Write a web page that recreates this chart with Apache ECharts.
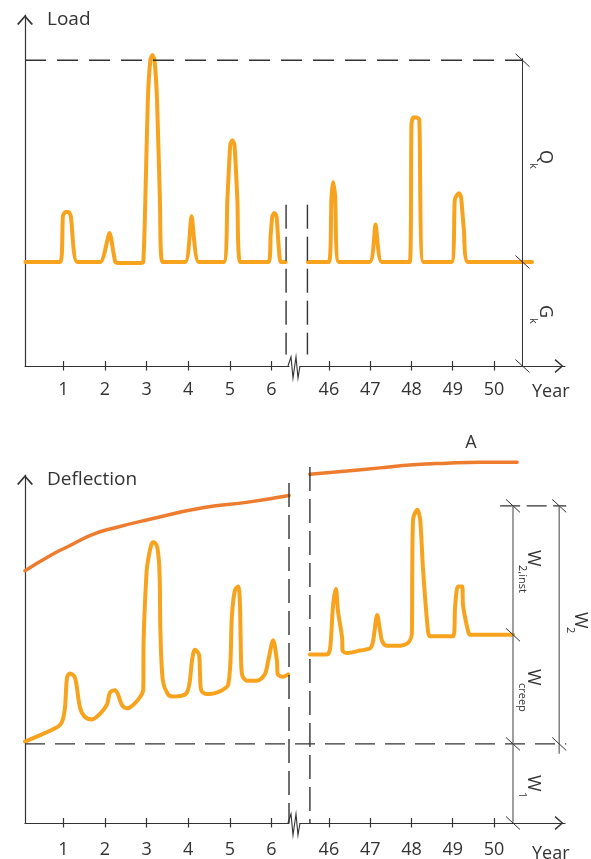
<!DOCTYPE html>
<html><head><meta charset="utf-8">
<script src="https://cdn.jsdelivr.net/npm/echarts@6/dist/echarts.min.js"></script>
<style>html,body{margin:0;padding:0;background:#fff}#c{width:591px;height:859px}</style>
</head><body><div id="c"></div>
<script>
// ---- tick labels ----
const earlyYears = [1, 2, 3, 4, 5, 6];
const lateYears = [46, 47, 48, 49, 50];

// ---- load (top panel), [year, load in units of G_k] ----
const loadEarly = [[0.09,1.00],[0.93,1.00],[0.99,1.44],[1.05,1.48],[1.13,1.48],[1.18,1.44],[1.33,1.00],[1.89,1.00],[2.11,1.28],[2.25,1.00],[2.37,0.99],[2.85,0.99],[2.92,1.00],[2.97,1.60],[3.03,2.56],[3.09,2.94],[3.14,2.99],[3.19,2.94],[3.25,2.56],[3.32,1.60],[3.38,1.00],[3.93,1.00],[4.08,1.44],[4.25,1.00],[4.85,1.00],[4.94,1.60],[5.01,2.13],[5.06,2.17],[5.11,2.13],[5.18,1.60],[5.25,1.00],[5.93,1.00],[5.98,1.26],[6.02,1.44],[6.07,1.47],[6.12,1.44],[6.17,1.16],[6.22,1.00],[6.34,1.00]];
const loadLate = [[45.49,1.00],[46.00,1.00],[46.06,1.60],[46.10,1.77],[46.15,1.64],[46.24,1.00],[46.99,1.00],[47.13,1.36],[47.28,1.00],[47.96,1.00],[48.00,2.32],[48.04,2.39],[48.12,2.39],[48.19,2.37],[48.29,1.00],[48.97,1.00],[49.05,1.60],[49.10,1.64],[49.15,1.66],[49.20,1.63],[49.27,1.31],[49.37,1.00],[50.92,1.00]];

// ---- deflection (bottom panel), [year, deflection in units of w1] ----
const deflEarly = [[0.08,1.03],[0.85,1.21],[0.97,1.28],[1.04,1.46],[1.09,1.84],[1.16,1.89],[1.28,1.84],[1.40,1.46],[1.52,1.34],[1.69,1.31],[1.88,1.38],[2.05,1.50],[2.12,1.65],[2.24,1.68],[2.31,1.63],[2.41,1.49],[2.53,1.45],[2.67,1.49],[2.84,1.59],[2.92,1.69],[2.93,2.34],[3.00,3.18],[3.04,3.34],[3.12,3.53],[3.17,3.55],[3.25,3.50],[3.30,3.28],[3.32,2.96],[3.33,2.46],[3.39,1.80],[3.51,1.63],[3.63,1.60],[3.85,1.61],[3.97,1.65],[4.04,1.80],[4.09,2.05],[4.16,2.19],[4.26,2.13],[4.28,1.93],[4.31,1.68],[4.45,1.63],[4.69,1.65],[4.96,1.75],[5.05,2.63],[5.12,2.94],[5.20,2.99],[5.24,2.80],[5.26,2.30],[5.29,1.88],[5.41,1.80],[5.65,1.80],[5.84,1.88],[5.92,2.05],[6.04,2.31],[6.13,2.05],[6.15,1.88],[6.28,1.85],[6.40,1.88]];
const deflLate = [[45.54,2.13],[45.95,2.13],[46.03,2.21],[46.10,2.75],[46.17,2.96],[46.22,2.68],[46.32,2.34],[46.33,2.18],[46.44,2.15],[46.75,2.18],[47.00,2.21],[47.07,2.30],[47.17,2.63],[47.24,2.43],[47.29,2.30],[47.41,2.24],[47.65,2.24],[47.92,2.28],[48.01,2.40],[48.02,3.21],[48.04,3.84],[48.14,3.96],[48.21,3.84],[48.28,3.21],[48.40,2.43],[48.45,2.36],[49.01,2.36],[49.06,2.75],[49.13,2.99],[49.23,2.99],[49.25,2.75],[49.37,2.43],[49.42,2.38],[50.46,2.38]];

// ---- curve A (upper bound) ----
const curveAEarly = [[0.08,3.19],[0.68,3.38],[1.09,3.49],[1.71,3.65],[2.29,3.74],[3.08,3.84],[4.28,3.98],[5.48,4.06],[6.42,4.14]];
const curveALate = [[45.54,4.41],[46.44,4.45],[47.24,4.49],[48.04,4.53],[48.86,4.55],[49.66,4.56],[50.56,4.56]];

// ---- reference levels ----
const Q_LEVEL = 2.94, G_LEVEL = 1.0;
const W1_LEVEL = 1.0, WCREEP_LEVEL = 2.38, W2_LEVEL = 4.01, W2_BRACKET_END = 0.875;

// ---- axis ranges ----
const XL = [0.08, 6.42], XR = [45.30, 51.72];
const Y_TOP_MAX = 3.375, Y_BOT_MAX = 4.4;

const INK = '#333';
const LOAD = '#F8A31D', ACOL = '#EE7C2F';
const FONT = 'Open Sans';
const chevron = 'path://M0,9 L8,0 L16,9 L14.6,10 L8,2.4 L1.4,10 Z';

function xMain(g, ext, ticks, margin, arrow) {
  return {type:'value', gridIndex:g, min:ext[0], max:ext[1], position:'bottom',
    splitLine:{show:false},
    axisLine:{show:true, onZero:false, lineStyle:{color:INK, width:1.2},
      symbol: arrow ? ['none', chevron] : ['none','none'], symbolSize:[14,12], symbolOffset:[0,-6]},
    axisTick:{show:true, inside:true, length:5, customValues:ticks, lineStyle:{color:INK, width:1.2}},
    axisLabel:{show:true, customValues:ticks, margin:margin, color:INK, fontSize:18, fontFamily:FONT}};
}
function xUnder(g, ext, ticks) {
  return {type:'value', gridIndex:g, min:ext[0], max:ext[1], position:'bottom',
    splitLine:{show:false}, axisLine:{show:false, onZero:false},
    axisTick:{show:true, inside:false, length:4.5, customValues:ticks, lineStyle:{color:INK, width:1.2}},
    axisLabel:{show:false}};
}
function yAx(g, max, visible) {
  return {type:'value', gridIndex:g, min:0, max:max, show:visible,
    splitLine:{show:false}, axisTick:{show:false}, axisLabel:{show:false},
    axisLine:{show:visible, onZero:false, lineStyle:{color:INK, width:1.2},
      symbol:['none', chevron], symbolSize:[16,10], symbolOffset:[0,-5]}};
}
function lineSeries(g, data, color, width, smooth) {
  return {type:'line', xAxisIndex:g, yAxisIndex:g, data:data, symbol:'none', showSymbol:false,
    smooth:smooth, clip:false, z:3,
    lineStyle:{color:color, width:width, cap:'round', join:'round'}};
}

const option = {
  animation:false,
  backgroundColor:'#fff',
  grid:[
    {left:25, top:15, width:264, height:351},
    {left:300, top:15, width:265, height:351},
    {left:25, top:475, width:264, height:352},
    {left:300, top:475, width:265, height:352}
  ],
  xAxis:[
    xMain(0, XL, earlyYears, 15, false), xMain(1, XR, lateYears, 15, true),
    xMain(2, XL, earlyYears, 18, false), xMain(3, XR, lateYears, 18, true),
    xUnder(0, XL, earlyYears), xUnder(1, XR, lateYears),
    xUnder(2, XL, earlyYears), xUnder(3, XR, lateYears)
  ],
  yAxis:[yAx(0, Y_TOP_MAX, true), yAx(1, Y_TOP_MAX, false), yAx(2, Y_BOT_MAX, true), yAx(3, Y_BOT_MAX, false)],
  series:[
    lineSeries(0, loadEarly, LOAD, 4, 0.2),
    lineSeries(1, loadLate, LOAD, 4, 0.2),
    lineSeries(2, deflEarly, LOAD, 4, 0.3),
    lineSeries(3, deflLate, LOAD, 4, 0.3),
    lineSeries(2, curveAEarly, ACOL, 3.5, 0.5),
    lineSeries(3, curveALate, ACOL, 3.5, 0.5)
  ]
};

const chart = echarts.init(document.getElementById('c'), null, {renderer:'canvas'});
chart.setOption(option);

const P = (g, x, y) => chart.convertToPixel({xAxisIndex:g, yAxisIndex:g}, [x, y]);
const G = [];
function seg(a, b, st) {
  G.push({type:'line', silent:true, z:5, shape:{x1:a[0], y1:a[1], x2:b[0], y2:b[1]},
    style:Object.assign({stroke:INK, lineWidth:1.2}, st || {})});
}
function slash(p, col) { seg([p[0]-7, p[1]-6.5], [p[0]+7, p[1]+6.5], {stroke:col || INK, lineWidth:1}); }
function zig(a) {
  const x = a[0], y = a[1];
  G.push({type:'polyline', silent:true, z:5,
    shape:{points:[[x-1,y],[x+2,y-9],[x+4,y+12],[x+7,y-9],[x+9,y+12],[x+11,y]]},
    style:{stroke:INK, lineWidth:1.1, fill:null}});
}
function txt(x, y, s, size, opts) {
  G.push(Object.assign({type:'text', x:x, y:y, silent:true, z:6,
    style:{text:s, fill:INK, font:'normal ' + size + 'px "' + FONT + '"',
      align:(opts && opts.align) || 'left', verticalAlign:'middle',
      textAlign:(opts && opts.align) || 'left', textVerticalAlign:'middle'}},
    opts && opts.rot ? {rotation:-Math.PI/2} : {}));
}

// ---- top panel decorations ----
const topBracketX = 50.69;
seg(P(0, XL[0], Q_LEVEL), P(1, topBracketX, Q_LEVEL), {lineDash:[21,11], lineWidth:1.4});
seg([P(1, topBracketX, Q_LEVEL)[0], P(1, topBracketX, Q_LEVEL)[1]-2], P(1, topBracketX, 0), {lineWidth:1});
slash(P(1, topBracketX, Q_LEVEL)); slash(P(1, topBracketX, G_LEVEL)); slash(P(1, topBracketX, 0));
seg(P(0, 6.35, 1.55), P(0, 6.35, 0.11), {lineDash:[24,8], lineWidth:1.4});
seg(P(1, 45.48, 1.55), P(1, 45.48, 0.11), {lineDash:[24,8], lineWidth:1.4});
zig(P(0, XL[1], 0));

// ---- bottom panel decorations ----
const b1 = 50.46, b2 = 51.58;
seg(P(2, XL[0], W1_LEVEL), P(3, 51.75, W1_LEVEL), {lineDash:[20,10], lineWidth:1.4});
seg(P(3, 50.15, W2_LEVEL), P(3, 51.75, W2_LEVEL), {lineDash:[20,6.5], lineWidth:1.2});
seg(P(3, b1, W2_LEVEL), P(3, b1, 0), {stroke:'#808080', lineWidth:1.5});
seg(P(3, b2, W2_LEVEL), P(3, b2, W2_BRACKET_END), {stroke:'#808080', lineWidth:1.5});
[W2_LEVEL, WCREEP_LEVEL, W1_LEVEL, 0].forEach(v => slash(P(3, b1, v)));
[W2_LEVEL, W1_LEVEL].forEach(v => slash(P(3, b2, v)));
seg(P(2, 6.42, 4.3), P(2, 6.42, 0), {lineDash:[24,8], lineWidth:1.4});
seg(P(3, 45.54, 4.5), P(3, 45.54, 0), {lineDash:[24,8], lineWidth:1.4});
zig(P(2, XL[1], 0));

// ---- texts ----
txt(47, 20, 'Load', 19);
txt(47, 480, 'Deflection', 19);
txt(532, 392, 'Year', 18);
txt(532, 854, 'Year', 18);
txt(471, 443, 'A', 18, {align:'center'});
txt(545, 150, 'Q', 18, {rot:true}); txt(533, 163, 'k', 11, {rot:true});
txt(545, 305, 'G', 18, {rot:true}); txt(533, 318, 'k', 11, {rot:true});
txt(533, 550, 'W', 18, {rot:true}); txt(522, 565, '2,inst', 11, {rot:true});
txt(580, 612, 'W', 18, {rot:true}); txt(570, 627, '2', 11, {rot:true});
txt(533, 669, 'W', 18, {rot:true}); txt(522.5, 683, 'creep', 11, {rot:true});
txt(533, 775, 'W', 18, {rot:true}); txt(522.5, 792, '1', 11, {rot:true});

chart.setOption({graphic:G});
</script>
</body></html>
